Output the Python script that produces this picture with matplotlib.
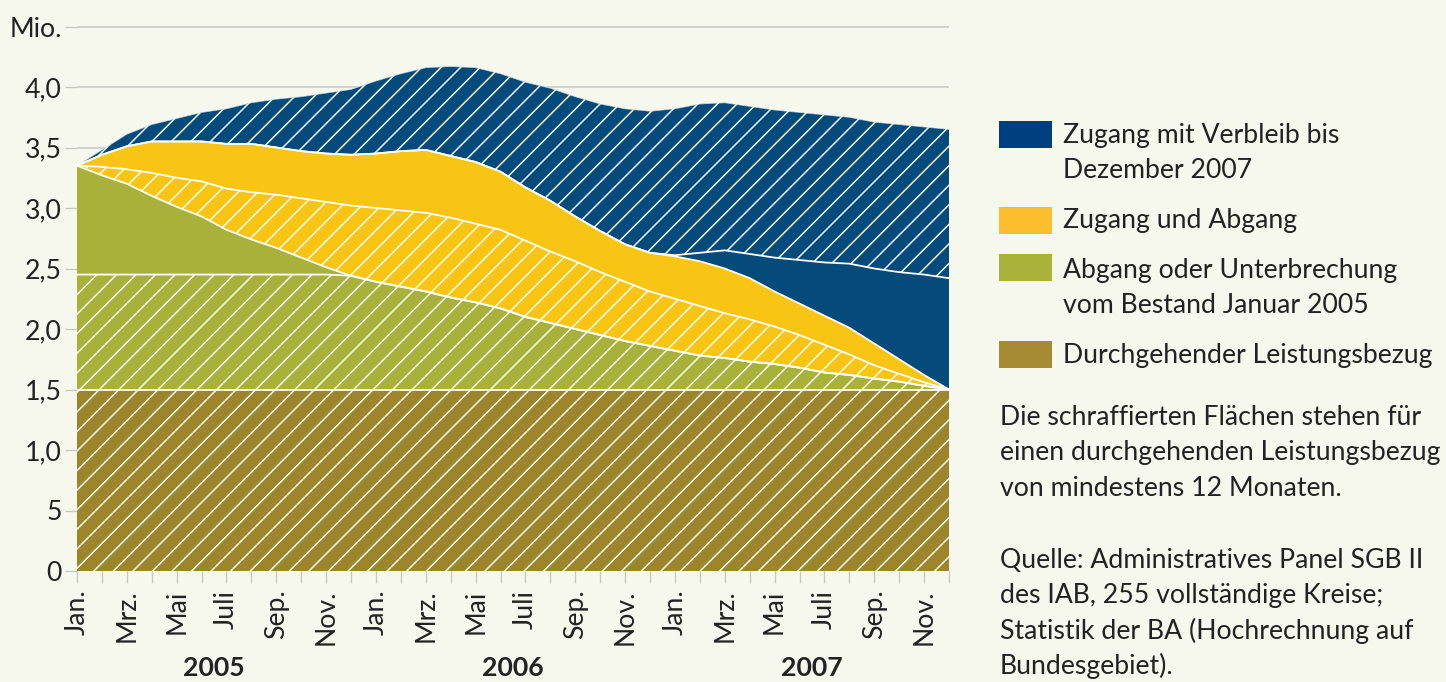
#!/usr/bin/env python3
"""Bestand und Dynamik im SGB II, Jan. 2005 - Dez. 2007 (gestapelte Flaechen, schraffiert = >= 12 Monate)."""
import numpy as np
import matplotlib; matplotlib.use("Agg")
import matplotlib.pyplot as plt
from matplotlib.patches import Rectangle

W, H, DPI = 1446, 682, 176
K = 160 / DPI  # keep point sizes as designed for 160 dpi
BG = "#f6f8ed"; TXT = "#222222"; GRID = "#c9c9c4"
BLUE = "#044b7b"; YELLOW = "#f9c514"; GREEN = "#a8b23a"; BROWN = "#9c852b"
LEG = {"blue": "#003f7f", "yellow": "#fcbe2e", "green": "#a9b33b", "brown": "#a58b33"}

MONTHS = ["Jan.", "Feb.", "Mrz.", "Apr.", "Mai", "Juni", "Juli", "Aug.", "Sep.", "Okt.", "Nov.", "Dez."]
YEARS = ["2005", "2006", "2007"]

# stacked upper boundaries in Mio., monthly Jan 2005 .. Dez 2007
durchgehend = 1.5
green_hatch_cap = 2.45
green_top = [3.35, 3.27, 3.20, 3.10, 3.01, 2.93, 2.82, 2.74, 2.67, 2.59, 2.51, 2.44,
             2.39, 2.35, 2.31, 2.26, 2.22, 2.17, 2.10, 2.05, 2.00, 1.95, 1.90, 1.86,
             1.82, 1.78, 1.76, 1.73, 1.71, 1.68, 1.64, 1.62, 1.59, 1.565, 1.53, 1.50]
yellow_hatch_top = [3.35, 3.34, 3.32, 3.29, 3.25, 3.22, 3.16, 3.13, 3.11, 3.08, 3.05, 3.02,
                    3.00, 2.98, 2.96, 2.92, 2.87, 2.82, 2.73, 2.64, 2.56, 2.47, 2.39, 2.31,
                    2.25, 2.19, 2.13, 2.08, 2.02, 1.95, 1.87, 1.79, 1.70, 1.63, 1.56, 1.50]
yellow_top = [3.35, 3.44, 3.51, 3.55, 3.55, 3.55, 3.53, 3.53, 3.50, 3.47, 3.45, 3.44,
              3.45, 3.47, 3.48, 3.43, 3.38, 3.30, 3.17, 3.06, 2.93, 2.81, 2.70, 2.63,
              2.60, 2.56, 2.50, 2.42, 2.31, 2.21, 2.11, 2.01, 1.88, 1.75, 1.62, 1.50]
blue_hatch_2007 = [2.61, 2.63, 2.65, 2.62, 2.59, 2.57, 2.55, 2.54, 2.50, 2.47, 2.45, 2.42]
blue_top = [3.35, 3.48, 3.61, 3.69, 3.74, 3.79, 3.82, 3.87, 3.90, 3.92, 3.95, 3.98,
            4.05, 4.11, 4.16, 4.17, 4.16, 4.11, 4.04, 3.99, 3.92, 3.86, 3.82, 3.80,
            3.82, 3.86, 3.87, 3.84, 3.81, 3.79, 3.77, 3.75, 3.71, 3.69, 3.67, 3.65]

legend_items = [("blue", ["Zugang mit Verbleib bis", "Dezember 2007"]),
                ("yellow", ["Zugang und Abgang"]),
                ("green", ["Abgang oder Unterbrechung", "vom Bestand Januar 2005"]),
                ("brown", ["Durchgehender Leistungsbezug"])]
note = ["Die schraffierten Flächen stehen für", "einen durchgehenden Leistungsbezug",
        "von mindestens 12 Monaten."]
source = ["Quelle: Administratives Panel SGB II", "des IAB, 255 vollständige Kreise;",
          "Statistik der BA (Hochrechnung auf", "Bundesgebiet)."]

plt.rcParams["font.family"] = ["Lato", "DejaVu Sans"]
plt.rcParams["hatch.linewidth"] = 0.65 * K
FS = 12 * K

x = np.arange(len(green_top))
gt = np.array(green_top); yh = np.array(yellow_hatch_top); yt = np.array(yellow_top)
bt = np.array(blue_top)
bh = np.concatenate([yt[:24], blue_hatch_2007])
gh = np.minimum(green_hatch_cap, gt)
base = np.full(len(x), durchgehend)

fig = plt.figure(figsize=(W / DPI, H / DPI), dpi=DPI, facecolor=BG)
YMAX = 4.55
ax_h = 121 * YMAX
ax = fig.add_axes([77 / W, (H - 571) / H, 872 / W, ax_h / H])
ax.set_facecolor(BG)

hat = dict(hatch="///", edgecolor="white", linewidth=0)
ax.fill_between(x, 0, base, facecolor=BROWN, zorder=2, **hat)
ax.fill_between(x, base, gt, facecolor=GREEN, linewidth=0, zorder=2)
ax.fill_between(x, base, gh, facecolor=GREEN, zorder=3, **hat)
ax.fill_between(x, gt, yt, facecolor=YELLOW, linewidth=0, zorder=2)
ax.fill_between(x, gt, yh, facecolor=YELLOW, zorder=3, **hat)
ax.fill_between(x, yt, bt, facecolor=BLUE, linewidth=0, zorder=2)
ax.fill_between(x, bh, bt, facecolor=BLUE, zorder=3, **hat)
for y in (base, gh, gt, yh, yt, bh):
    ax.plot(x, y, color="white", lw=0.8 * K, zorder=4, solid_joinstyle="round")
ax.plot(x, bt, color="white", lw=0.4 * K, alpha=0.7, zorder=4)

ax.set_xlim(0, 35); ax.set_ylim(0, YMAX)
for s in ax.spines.values():
    s.set_visible(False)

yt_vals = np.arange(0, 4.51, 0.5)
ylabels = ["0", "5", "1,0", "1,5", "2,0", "2,5", "3,0", "3,5", "4,0", "Mio."]
ax.set_yticks(yt_vals, ylabels)
ax.set_xticks(x, [MONTHS[i % 12] if i % 2 == 0 else "" for i in x])
ax.tick_params(axis="y", length=5.4 * K, width=0.6 * K, color=GRID, pad=1.5 * K,
               labelsize=FS, labelcolor=TXT)
ax.tick_params(axis="x", length=5.4 * K, width=0.6 * K, color=GRID, pad=3.0 * K,
               labelsize=FS, labelcolor=TXT, labelrotation=90)
for lab in ax.get_xticklabels():
    lab.set_va("top")
ax.grid(axis="y", color=GRID, lw=0.7 * K, zorder=0)
ax.set_axisbelow(True)

for i, yr in enumerate(YEARS):
    ax.text(12 * i + 5.5, -(668 - 571) / ax_h, yr, transform=ax.get_xaxis_transform(),
            ha="center", va="center", fontsize=FS, fontweight="bold", color=TXT)


def put_lines(xp, yp, lines, pitch=35.3):
    for k, line in enumerate(lines):
        fig.text(xp / W, 1 - (yp + k * pitch) / H, line, ha="left", va="baseline",
                 fontsize=FS, color=TXT)


rect_top = [121, 207, 254, 341]
text_base = [143, 228, 278, 363]
for (key, lines), rt, tb in zip(legend_items, rect_top, text_base):
    fig.add_artist(Rectangle((999 / W, 1 - (rt + 27) / H), 53 / W, 27 / H,
                             transform=fig.transFigure, facecolor=LEG[key], edgecolor="none"))
    put_lines(1063, tb, lines)

put_lines(1000, 425, note)
put_lines(1000, 568, source)

fig.savefig("out.png", dpi=DPI, facecolor=BG)
